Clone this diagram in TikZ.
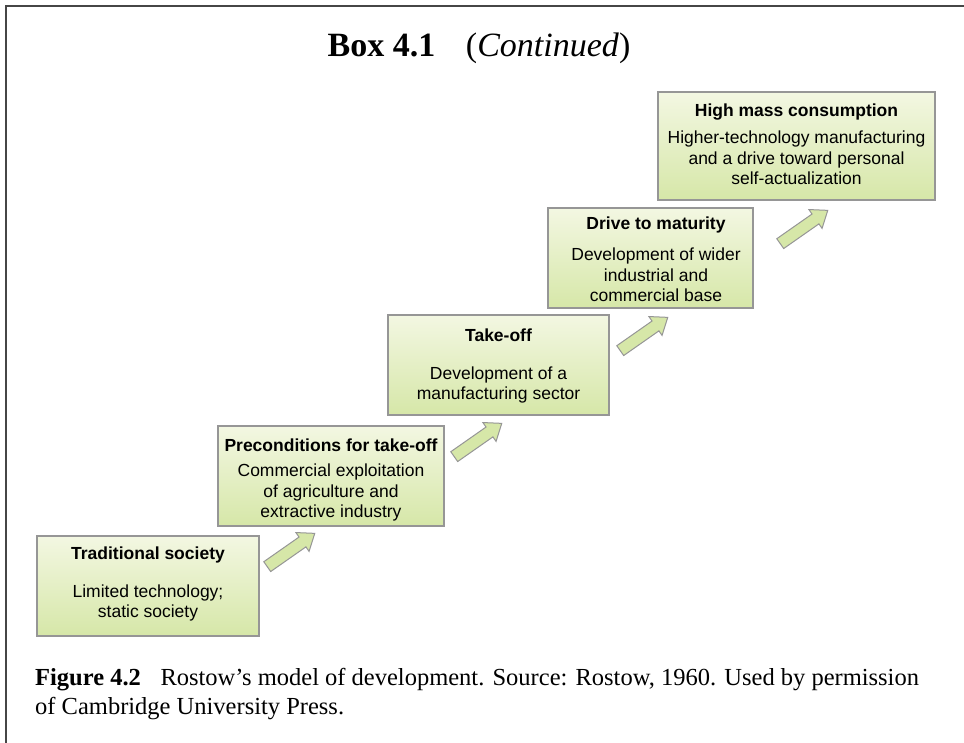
\documentclass[tikz,border=0pt]{standalone}
\usepackage{fontspec}
\setmainfont{Liberation Serif}
\setsansfont{Liberation Sans}
\definecolor{boxtop}{RGB}{243,247,226}
\definecolor{boxbot}{RGB}{214,231,168}
\definecolor{boxline}{RGB}{150,150,150}
\definecolor{framecol}{RGB}{70,70,70}
\begin{document}
\begin{tikzpicture}[x=1pt,y=-1pt,
  stagebox/.style={draw=boxline, line width=1.2pt, top color=boxtop, bottom color=boxbot,
    inner sep=0pt, outer sep=0pt},
  ttl/.style={font=\sffamily\bfseries\fontsize{17.5}{20.5}\selectfont, inner sep=0pt, align=center},
  bodytxt/.style={font=\sffamily\fontsize{17.5}{20.5}\selectfont, inner sep=0pt, align=center},
  arrowline/.style={draw=boxline, line width=1pt, fill=boxbot, line join=miter},
  pics/stagearrow/.style={code={
    \draw[arrowline] (-29,-6) -- (14,-6) -- (14,-11.5) -- (29,0) -- (14,11.5) -- (14,6) -- (-29,6) -- cycle;}}]
\useasboundingbox (0,0) rectangle (964,743);
\fill[white] (0,0) rectangle (964,743);
\draw[framecol, line width=1.6pt] (6,743) -- (6,6) -- (964,6);

\node (title) at (479,48) {\fontsize{34}{36}\selectfont\textbf{Box 4.1}\hspace{0.9em}(\textit{Continued})};

% boxes
\node[stagebox, minimum width=222pt, minimum height=100pt] (b1) at (148,586) {};
\node[ttl] (t1) at (148,555) {Traditional society};
\node[bodytxt] (d1) at (148,603) {Limited technology;\\static society};

\node[stagebox, minimum width=226pt, minimum height=100pt] (b2) at (331,476) {};
\node[ttl] (t2) at (331,445) {Preconditions for take-off};
\node[bodytxt] (d2) at (331,492.5) {Commercial exploitation\\of agriculture and\\extractive industry};

\node[stagebox, minimum width=221pt, minimum height=100pt] (b3) at (498.5,365) {};
\node[ttl] (t3) at (498.5,335) {Take-off};
\node[bodytxt] (d3) at (498.5,385) {Development of a\\manufacturing sector};

\node[stagebox, minimum width=205pt, minimum height=100pt] (b4) at (650.5,258) {};
\node[ttl] (t4) at (656,225) {Drive to maturity};
\node[bodytxt] (d4) at (656,275) {Development of wider\\industrial and\\commercial base};

\node[stagebox, minimum width=277pt, minimum height=108pt] (b5) at (796.5,146) {};
\node[ttl] (t5) at (796.5,112) {High mass consumption};
\node[bodytxt] (d5) at (796.5,158) {Higher-technology manufacturing\\and a drive toward personal\\self-actualization};

% arrows
\pic[rotate=35] (a1) at (291,550) {stagearrow};
\pic[rotate=35] (a2) at (478,440) {stagearrow};
\pic[rotate=35] (a3) at (644,334) {stagearrow};
\pic[rotate=35] (a4) at (804,227) {stagearrow};

% caption
\node[anchor=base west, inner sep=0pt, font=\fontsize{24.5}{29}\selectfont] (c1) at (35,685)
  {\textbf{Figure 4.2}\hspace{0.8em}Rostow’s model of development. Source: Rostow, 1960. Used by permission};
\node[anchor=base west, inner sep=0pt, font=\fontsize{24.5}{29}\selectfont] (c2) at (35,714)
  {of Cambridge University Press.};
\end{tikzpicture}
\end{document}
